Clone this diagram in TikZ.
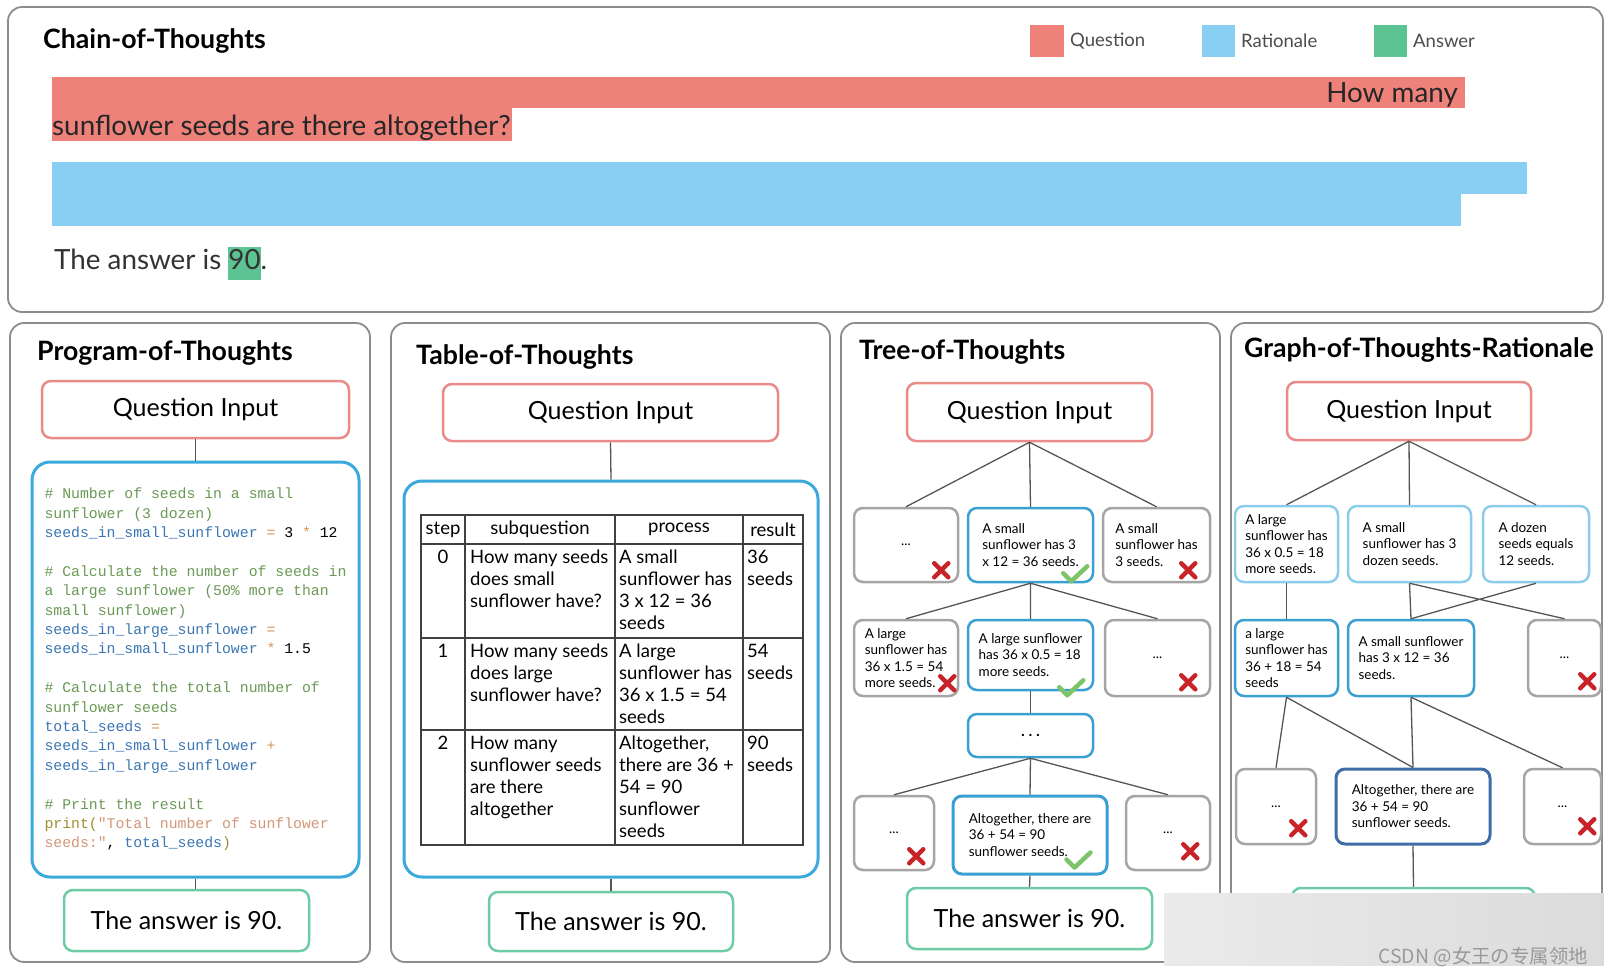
\documentclass[tikz,border=0pt]{standalone}
\usepackage{fontspec}
\setmainfont{Lato}
\setmonofont{Liberation Mono}
\newfontfamily\cjkfont{Noto Sans CJK SC}
\usetikzlibrary{positioning}

\definecolor{qcolor}{RGB}{238,130,122}
\definecolor{rcolor}{RGB}{137,207,244}
\definecolor{acolor}{RGB}{92,196,146}
\definecolor{qred}{RGB}{233,140,137}
\definecolor{rblue}{RGB}{60,169,220}
\definecolor{agreen}{RGB}{109,203,165}
\definecolor{panelgray}{RGB}{140,140,140}
\definecolor{nodegray}{RGB}{165,165,165}
\definecolor{nodeblue}{RGB}{58,160,210}
\definecolor{lightblue}{RGB}{140,205,235}
\definecolor{darkblue}{RGB}{62,110,165}
\definecolor{linkgray}{RGB}{85,85,85}
\definecolor{xred}{RGB}{200,35,40}
\definecolor{okgreen}{RGB}{125,195,105}
\definecolor{cmtgreen}{RGB}{106,153,85}
\definecolor{idblue}{RGB}{58,118,181}
\definecolor{oporange}{RGB}{214,150,90}
\definecolor{fnolive}{RGB}{160,140,50}
\definecolor{strsalmon}{RGB}{210,150,120}

\newcommand\titlefont{\fontsize{26.7}{31}\selectfont\bfseries}
\newcommand\qifont{\fontsize{25}{30}\selectfont}
\newcommand\barfont{\fontsize{27.8}{33}\selectfont}
\newcommand\legfont{\fontsize{18.5}{22}\selectfont}
\newcommand\cellfont{\fontsize{18.5}{22}\selectfont}
\newcommand\thfont{\fontsize{13.5}{16.5}\selectfont}
\newcommand\codefont{\ttfamily\fontsize{14.8}{19.4}\selectfont}

\newcommand\cmt[1]{\textcolor{cmtgreen}{#1}}
\newcommand\idf[1]{\textcolor{idblue}{#1}}
\newcommand\opr[1]{\textcolor{oporange}{#1}}
\newcommand\fnc[1]{\textcolor{fnolive}{#1}}
\newcommand\strg[1]{\textcolor{strsalmon}{#1}}
\newcommand\ansmark[1]{{\setlength{\fboxsep}{0pt}\colorbox{acolor}{\strut#1}}}

\tikzset{
  nogo/.pic={\draw[xred,line width=4.5,line cap=round] (-7,-7) -- (7,7) (-7,7) -- (7,-7);},
  okay/.pic={\draw[okgreen,line width=4.5,line cap=round,line join=round] (-12,-1) -- (-4,7) -- (12,-8);}
}

\begin{document}
\begin{tikzpicture}[x=1pt,y=-1pt,
  panel/.style={draw=panelgray,line width=1.8,rounded corners=14},
  title/.style={anchor=west,inner sep=0,font=\titlefont},
  qinput/.style={draw=qred,line width=2.5,rounded corners=9,fill=white,font=\qifont},
  answer/.style={draw=agreen,line width=2.5,rounded corners=9,fill=white,font=\qifont},
  ratbox/.style={draw=rblue,line width=3,rounded corners=18,fill=white},
  thought/.style={draw=nodegray,line width=2.5,rounded corners=9,fill=white,font=\thfont,align=left,inner sep=4},
  goodthought/.style={thought,draw=nodeblue},
  link/.style={draw=linkgray,line width=1.3},
  cell/.style={anchor=north west,inner sep=0,font=\cellfont,align=left},
  head/.style={inner sep=0,font=\cellfont}]
  \useasboundingbox (0,0) rectangle (1604,978);

  % chain of thoughts, across the top
  \draw[panel] (8,7) rectangle (1603,312);
  \node[title] (cottitle) at (43,41) {Chain-of-Thoughts};
  \fill[qcolor] (1030,25) rectangle (1064,57);
  \node[anchor=west,inner sep=0,font=\legfont,black!70] (legq) at (1070,41) {Question};
  \fill[rcolor] (1202,25) rectangle (1235,57);
  \node[anchor=west,inner sep=0,font=\legfont,black!70] (legr) at (1241,41) {Rationale};
  \fill[acolor] (1374,25) rectangle (1407,57);
  \node[anchor=west,inner sep=0,font=\legfont,black!70] (lega) at (1413,41) {Answer};
  \fill[qcolor] (52,77) rectangle (1465,108);
  \fill[qcolor] (52,108) rectangle (512,141);
  \node[anchor=east,inner sep=0,font=\barfont,black!85] (qtext1) at (1458,95) {How many};
  \node[anchor=west,inner sep=0,font=\barfont,black!85] (qtext2) at (52,128) {sunflower seeds are there altogether?};
  \fill[rcolor] (52,162) rectangle (1527,194);
  \fill[rcolor] (52,193) rectangle (1461,226);
  \node[anchor=west,inner sep=0,font=\barfont,black!80] (cotans) at (54,263) {The answer is \ansmark{90}.};

  % program of thoughts
  \draw[panel] (10,323) rectangle (370,962);
  \node[title] (pottitle) at (37,353) {Program-of-Thoughts};
  \node[qinput,minimum width=307,minimum height=57] (pq) at (195.5,409.5) {Question Input};
  \node[ratbox,minimum width=327,minimum height=415,align=left,font=\codefont] (pcode) at (195.5,669.5) {%
    \cmt{\# Number of seeds in a small}\\
    \cmt{sunflower (3 dozen)}\\
    \idf{seeds\_in\_small\_sunflower} \opr{=} 3 \opr{*} 12\\[19.4pt]
    \cmt{\# Calculate the number of seeds in}\\
    \cmt{a large sunflower (50\% more than}\\
    \cmt{small sunflower)}\\
    \idf{seeds\_in\_large\_sunflower} \opr{=}\\
    \idf{seeds\_in\_small\_sunflower} \opr{*} 1.5\\[19.4pt]
    \cmt{\# Calculate the total number of}\\
    \cmt{sunflower seeds}\\
    \idf{total\_seeds} \opr{=}\\
    \idf{seeds\_in\_small\_sunflower} \opr{+}\\
    \idf{seeds\_in\_large\_sunflower}\\[19.4pt]
    \cmt{\# Print the result}\\
    \fnc{print(}\strg{"Total number of sunflower}\\
    \strg{seeds:"}, \idf{total\_seeds}\fnc{)}};
  \node[answer,minimum width=245,minimum height=61] (pa) at (186.5,920.5) {The answer is 90.};
  \draw[link] (pq.south) -- (pcode.north);
  \draw[link] (pcode.south) -- (pcode.south |- pa.north);

  % table of thoughts
  \draw[panel] (391,323) rectangle (830,962);
  \node[title] (tabtitle) at (416,357) {Table-of-Thoughts};
  \node[qinput,minimum width=335,minimum height=57] (tq) at (610.5,412.5) {Question Input};
  \node[ratbox,minimum width=414,minimum height=396] (tbox) at (611,679) {};
  \node[answer,minimum width=244,minimum height=59] (ta) at (611,921.5) {The answer is 90.};
  \draw[link] (tq.south) -- (tbox.north);
  \draw[link] (tbox.south) -- (ta.north);
  \draw[black!75,line width=1.5] (421,515) rectangle (803,845);
  \draw[black!75,line width=1.5] (465,515) -- (465,845) (615,515) -- (615,845) (743,515) -- (743,845);
  \draw[black!75,line width=1.5] (421,544) -- (803,544) (421,638) -- (803,638) (421,730) -- (803,730);
  \node[head] (hstep) at (443,529.5) {step};
  \node[head] (hsub) at (540,529.5) {subquestion};
  \node[head] (hproc) at (679,529.5) {process};
  \node[head] (hres) at (773,529.5) {result};
  \node[cell,anchor=north] (s0) at (443,550) {0};
  \node[cell] (q0) at (470,550) {How many seeds\\does small\\sunflower have?};
  \node[cell] (p0) at (619,550) {A small\\sunflower has\\3 x 12 = 36\\seeds};
  \node[cell] (r0) at (747,550) {36\\seeds};
  \node[cell,anchor=north] (s1) at (443,644) {1};
  \node[cell] (q1) at (470,644) {How many seeds\\does large\\sunflower have?};
  \node[cell] (p1) at (619,644) {A large\\sunflower has\\36 x 1.5 = 54\\seeds};
  \node[cell] (r1) at (747,644) {54\\seeds};
  \node[cell,anchor=north] (s2) at (443,736) {2};
  \node[cell] (q2) at (470,736) {How many\\sunflower seeds\\are there\\altogether};
  \node[cell] (p2) at (619,736) {Altogether,\\there are 36 +\\54 = 90\\sunflower\\seeds};
  \node[cell] (r2) at (747,736) {90\\seeds};

  % tree of thoughts
  \draw[panel] (841,323) rectangle (1220,962);
  \node[title] (tottitle) at (859,352) {Tree-of-Thoughts};
  \node[qinput,minimum width=245,minimum height=58] (eq) at (1029.5,412) {Question Input};
  \node[thought,minimum width=104,minimum height=74] (e1a) at (906,545) {...};
  \node[goodthought,minimum width=125,minimum height=74] (e1b) at (1030.5,545) {A small\\sunflower has 3\\x 12 = 36 seeds.};
  \node[thought,minimum width=107,minimum height=74] (e1c) at (1156.5,545) {A small\\sunflower has\\3 seeds.};
  \node[thought,minimum width=104,minimum height=76] (e2a) at (906,658) {A large\\sunflower has\\36 x 1.5 = 54\\more seeds.};
  \node[goodthought,minimum width=125,minimum height=70] (e2b) at (1030.5,655) {A large sunflower\\has 36 x 0.5 = 18\\more seeds.};
  \node[thought,minimum width=105,minimum height=76] (e2c) at (1157.5,658) {...};
  \node[goodthought,minimum width=125,minimum height=43,font=\legfont] (e3) at (1030.5,735.5) {.\,.\,.};
  \node[thought,minimum width=80,minimum height=74] (e4a) at (894,833) {...};
  \node[goodthought,line width=3,minimum width=154,minimum height=78] (e4b) at (1030,835) {Altogether, there are\\36 + 54 = 90\\sunflower seeds.};
  \node[thought,minimum width=84,minimum height=74] (e4c) at (1168,833) {...};
  \node[answer,minimum width=245,minimum height=61] (ea) at (1029.5,918.5) {The answer is 90.};
  \draw[link] (eq.south) -- (e1a.north) (eq.south) -- (e1b.north) (eq.south) -- (e1c.north);
  \draw[link] (e1b.south) -- (e2a.north) (e1b.south) -- (e2b.north) (e1b.south) -- (e2c.north);
  \draw[link] (e2b.south) -- (e3.north);
  \draw[link] (e3.south) -- (e4a.north) (e3.south) -- (e4b.north) (e3.south) -- (e4c.north);
  \draw[link] (e4b.south) -- (ea.north);
  \pic at ([shift={(-18,-13)}]e1a.south east) {nogo};
  \pic at ([shift={(-19,-9)}]e1b.south east) {okay};
  \pic at ([shift={(-23,-13)}]e1c.south east) {nogo};
  \pic at ([shift={(-12,-14)}]e2a.south east) {nogo};
  \pic at ([shift={(-23,-3)}]e2b.south east) {okay};
  \pic at ([shift={(-23,-15)}]e2c.south east) {nogo};
  \pic at ([shift={(-19,-15)}]e4a.south east) {nogo};
  \pic at ([shift={(-30,-15)}]e4b.south east) {okay};
  \pic at ([shift={(-21,-20)}]e4c.south east) {nogo};

  % graph of thoughts rationale
  \draw[panel] (1231,323) rectangle (1602,962);
  \node[title] (gottitle) at (1244,350) {Graph-of-Thoughts-Rationale};
  \node[qinput,minimum width=244,minimum height=58] (gq) at (1409,411) {Question Input};
  \node[thought,draw=lightblue,minimum width=103,minimum height=76] (g1a) at (1286.5,544) {A large\\sunflower has\\36 x 0.5 = 18\\more seeds.};
  \node[thought,draw=lightblue,minimum width=123,minimum height=76] (g1b) at (1409.5,544) {A small\\sunflower has 3\\dozen seeds.};
  \node[thought,draw=lightblue,minimum width=106,minimum height=76] (g1c) at (1536,544) {A dozen\\seeds equals\\12 seeds.};
  \node[goodthought,minimum width=103,minimum height=76] (g2a) at (1286.5,658) {a large\\sunflower has\\36 + 18 = 54\\seeds};
  \node[goodthought,minimum width=126,minimum height=76] (g2b) at (1411,658) {A small sunflower\\has 3 x 12 = 36\\seeds.};
  \node[thought,minimum width=73,minimum height=76] (g2c) at (1564.5,658) {...};
  \node[thought,minimum width=80,minimum height=75] (g3a) at (1276,806.5) {...};
  \node[thought,draw=darkblue,line width=3,minimum width=154,minimum height=75] (g3b) at (1413,806.5) {Altogether, there are\\36 + 54 = 90\\sunflower seeds.};
  \node[thought,minimum width=77,minimum height=75] (g3c) at (1562.5,806.5) {...};
  \node[answer,minimum width=243,minimum height=62] (ga) at (1413.5,919) {};
  \draw[link] (gq.south) -- (g1a.north) (gq.south) -- (g1b.north) (gq.south) -- (g1c.north);
  \draw[link] (g1a.south) -- (g2a.north);
  \draw[link] (g1b.south) -- (g2b.north) (g1b.south) -- (g2c.north) (g1c.south) -- (g2b.north);
  \draw[link] (g2a.south) -- (g3a.north) (g2a.south) -- (g3b.north);
  \draw[link] (g2b.south) -- (g3b.north) (g2b.south) -- (g3c.north);
  \draw[link] (g3b.south) -- (ga.north);
  \pic at ([shift={(-15,-16)}]g2c.south east) {nogo};
  \pic at ([shift={(-19,-17)}]g3a.south east) {nogo};
  \pic at ([shift={(-15,-19)}]g3c.south east) {nogo};

  % watermark strip over the lower right corner
  \shade[left color=black!8,right color=black!14] (1164,893) rectangle (1604,965);
  \node[anchor=east,inner sep=0,font=\cjkfont\fontsize{19.4}{20}\selectfont,black!40] (wmark) at (1588,957) {CSDN @女王の专属领地};
\end{tikzpicture}
\end{document}
